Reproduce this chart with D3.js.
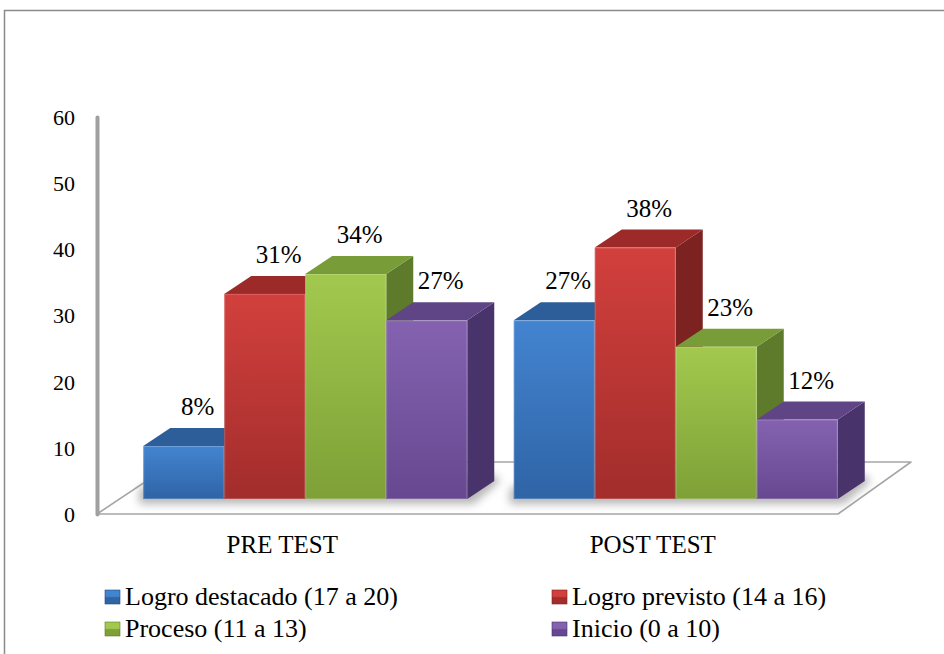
<!DOCTYPE html>
<html>
<head>
<meta charset="utf-8">
<script src="https://cdn.jsdelivr.net/npm/d3@7.9.0/dist/d3.min.js"></script>
<style>
  html, body { margin: 0; padding: 0; background: #fff; }
  svg text { font-family: "Liberation Serif", "Times New Roman", serif !important; }
</style>
</head>
<body>
<svg id="chart" width="944" height="654"></svg>
<script>
// chart data
const categories = ['PRE TEST', 'POST TEST'];
const seriesNames = ['Logro destacado (17 a 20)', 'Logro previsto (14 a 16)', 'Proceso (11 a 13)', 'Inicio (0 a 10)'];
const preTest = [8, 31, 34, 27];
const postTest = [27, 38, 23, 12];
const yTicks = [0, 10, 20, 30, 40, 50, 60];

const serif = '"Liberation Serif", "Times New Roman", serif';

// colours per series: front top / front bottom / top face / side face
const palette = [
  { light: '#4384d0', dark: '#2f64a6', top: '#2e5e99', side: '#244a7b' },
  { light: '#d2403d', dark: '#a22d2b', top: '#9c2a28', side: '#7c2220' },
  { light: '#a2c94e', dark: '#7ea037', top: '#789c38', side: '#5e7b2b' },
  { light: '#8462b0', dark: '#674890', top: '#5f4486', side: '#48336a' }
];

const svg = d3.select('#chart');
const defs = svg.append('defs');

// outer frame (runs off the right and bottom edges)
svg.append('rect')
  .attr('x', 4.5).attr('y', 10.5)
  .attr('width', 1000).attr('height', 1000)
  .attr('fill', 'none')
  .attr('stroke', '#8a8a8a')
  .attr('stroke-width', 1.5);

// plot geometry
const x0 = 97, x1 = 838, yBase = 514;
const floorDepth = [73, -52];   // back of the floor relative to its front
const barShift = [23, -15];     // where the bar fronts sit on the floor
const barDepth = [27, -18];     // depth of each column

const y = d3.scaleLinear().domain([0, 60]).range([yBase, 117]);
const xCat = d3.scaleBand().domain(categories).range([x0, x1]);
const xSer = d3.scaleBand().domain(d3.range(seriesNames.length))
  .range([0, xCat.bandwidth()]).paddingInner(0).paddingOuter(0.287);

// gradients
palette.forEach((c, i) => {
  const g = defs.append('linearGradient').attr('id', 'front' + i)
    .attr('x1', 0).attr('y1', 0).attr('x2', 0).attr('y2', 1);
  g.append('stop').attr('offset', '0%').attr('stop-color', c.light);
  g.append('stop').attr('offset', '100%').attr('stop-color', c.dark);
  const l = defs.append('linearGradient').attr('id', 'leg' + i)
    .attr('x1', 0).attr('y1', 0).attr('x2', 0).attr('y2', 1);
  l.append('stop').attr('offset', '0%').attr('stop-color', c.light);
  l.append('stop').attr('offset', '45%').attr('stop-color', c.light);
  l.append('stop').attr('offset', '55%').attr('stop-color', c.dark);
  l.append('stop').attr('offset', '100%').attr('stop-color', c.dark);
});
defs.append('filter').attr('id', 'blur')
  .attr('x', '-20%').attr('y', '-50%').attr('width', '140%').attr('height', '200%')
  .append('feGaussianBlur').attr('stdDeviation', 4);

// floor
const floorPts = [
  [x0, yBase], [x1, yBase],
  [x1 + floorDepth[0], yBase + floorDepth[1]],
  [x0 + 78, yBase + floorDepth[1]]
];
svg.append('polygon')
  .attr('points', floorPts.map(p => p.join(',')).join(' '))
  .attr('fill', '#fff')
  .attr('stroke', '#a6a6a6')
  .attr('stroke-width', 1.6)
  .attr('stroke-linejoin', 'round');

// y axis (labels + thick grey line)
const yAxis = svg.append('g')
  .attr('transform', `translate(${x0},0)`)
  .call(d3.axisLeft(y).tickValues(yTicks).tickSize(0).tickSizeOuter(0).tickPadding(22));
yAxis.attr('font-family', serif);
yAxis.select('.domain')
  .attr('stroke', '#a0a0a0').attr('stroke-width', 4).attr('stroke-linecap', 'round');
yAxis.selectAll('text')
  .style('font-family', serif)
  .attr('font-size', 22).attr('fill', '#000').attr('dy', '0.34em');

// bars
const rows = categories.map((cat, ci) => ({
  cat,
  values: ci === 0 ? preTest : postTest
}));

const bars = [];
rows.forEach(row => {
  row.values.forEach((v, si) => {
    const xl = xCat(row.cat) + xSer(si) + barShift[0];
    const w = xSer.bandwidth();
    const yt = y(v) + barShift[1];
    const yb = y(0) + barShift[1];
    bars.push({ cat: row.cat, si, v, xl, w, yt, yb });
  });
});

// soft shadow on the floor under each group
rows.forEach(row => {
  const grp = bars.filter(b => b.cat === row.cat);
  const xa = grp[0].xl - 4, xb = grp[grp.length - 1].xl + grp[0].w + barDepth[0] + 6;
  const yb = grp[0].yb;
  svg.append('polygon')
    .attr('points', [
      [xa, yb + 5], [xb - barDepth[0], yb + 5], [xb, yb + barDepth[1]],
      [xb - 6, yb + barDepth[1] - 6], [xa + barDepth[0], yb + barDepth[1] - 6], [xa, yb - 10]
    ].map(p => p.join(',')).join(' '))
    .attr('fill', '#7a7a7a')
    .attr('opacity', 0.55)
    .attr('filter', 'url(#blur)');
});

const [dx, dy] = barDepth;
bars.forEach(b => {
  const c = palette[b.si];
  const g = svg.append('g');
  // side face
  g.append('polygon')
    .attr('points', [[b.xl + b.w, b.yt], [b.xl + b.w + dx, b.yt + dy], [b.xl + b.w + dx, b.yb + dy], [b.xl + b.w, b.yb]]
      .map(p => p.join(',')).join(' '))
    .attr('fill', c.side);
  // top face
  g.append('polygon')
    .attr('points', [[b.xl, b.yt], [b.xl + dx, b.yt + dy], [b.xl + b.w + dx, b.yt + dy], [b.xl + b.w, b.yt]]
      .map(p => p.join(',')).join(' '))
    .attr('fill', c.top);
  // front face
  g.append('rect')
    .attr('x', b.xl).attr('y', b.yt)
    .attr('width', b.w).attr('height', b.yb - b.yt)
    .attr('fill', `url(#front${b.si})`);
  // thin highlight along the front edges
  g.append('rect')
    .attr('x', b.xl + 0.5).attr('y', b.yt + 0.5)
    .attr('width', b.w - 1).attr('height', b.yb - b.yt - 1)
    .attr('fill', 'none')
    .attr('stroke', '#ffffff').attr('stroke-opacity', 0.18);
});

// data labels
svg.append('g').selectAll('text')
  .data(bars)
  .join('text')
  .attr('x', d => d.xl + d.w / 2 + 14)
  .attr('y', d => d.yt + dy - 13)
  .attr('text-anchor', 'middle')
  .style('font-family', serif)
  .attr('font-size', 25)
  .attr('fill', '#000')
  .text(d => d.v + '%');

// category labels
svg.append('g').selectAll('text')
  .data(categories)
  .join('text')
  .attr('x', d => xCat(d) + xCat.bandwidth() / 2)
  .attr('y', 553)
  .attr('text-anchor', 'middle')
  .style('font-family', serif)
  .attr('font-size', 25)
  .attr('fill', '#000')
  .text(d => d);

// legend
const legendX = [105, 552];
const legendY = [590, 622];
const leg = svg.append('g').selectAll('g')
  .data(seriesNames)
  .join('g')
  .attr('transform', (d, i) => `translate(${legendX[i % 2]},${legendY[Math.floor(i / 2)]})`);
leg.append('rect')
  .attr('width', 15).attr('height', 14)
  .attr('fill', (d, i) => `url(#leg${i})`)
  .attr('stroke', (d, i) => palette[i].side).attr('stroke-width', 0.6);
leg.append('text')
  .attr('x', 20).attr('y', 15)
  .style('font-family', serif)
  .attr('font-size', 26)
  .attr('fill', '#000')
  .text(d => d);
</script>
</body>
</html>
